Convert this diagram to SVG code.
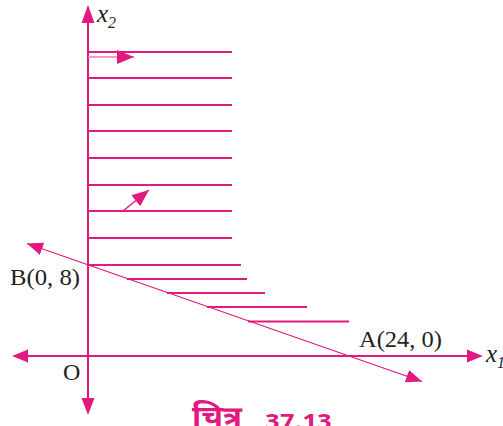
<svg xmlns="http://www.w3.org/2000/svg" width="503" height="426" viewBox="0 0 503 426">
<style>
.ax{stroke:#E2197F;stroke-width:2;fill:none}
.h{stroke:#E2197F;stroke-width:2;fill:none}
.c{stroke:#E2197F;stroke-width:1.3;fill:none}
.lbl{font-family:"Liberation Serif","Times New Roman",Times,serif;font-size:24px;fill:#231F20}
.it{font-family:"Liberation Serif","Times New Roman",Times,serif;font-style:italic;fill:#231F20}
.cap{font-family:"Noto Sans Devanagari","Noto Sans","Liberation Sans",sans-serif;font-weight:bold;fill:#E2197F}
</style>
<defs>
<marker id="ah" markerUnits="userSpaceOnUse" markerWidth="18" markerHeight="15" refX="17" refY="7" orient="auto">
<path d="M0,0 L17,7 L0,14 Z" fill="#E2197F"/>
</marker>
<marker id="ahs" markerUnits="userSpaceOnUse" markerWidth="18" markerHeight="14" refX="16" refY="6.5" orient="auto-start-reverse">
<path d="M0,0 L16,6.5 L0,13 Z" fill="#E2197F"/>
</marker>
</defs>
<g id="axes">
<line class="ax" x1="88" y1="399" x2="88" y2="22"/>
<polygon points="88,5 81.5,23 94.5,23" fill="#E2197F"/>
<polygon points="88,415 81.5,398 94.5,398" fill="#E2197F"/>
<line class="ax" x1="27" y1="356" x2="468" y2="356"/>
<polygon points="12,356 28,349.5 28,362.5" fill="#E2197F"/>
<polygon points="483,356 467,349.5 467,362.5" fill="#E2197F"/>
</g>
<g id="hatching">
<line class="h" x1="88" y1="52" x2="232" y2="52"/>
<line class="h" x1="88" y1="78" x2="232" y2="78"/>
<line class="h" x1="88" y1="105" x2="232" y2="105"/>
<line class="h" x1="88" y1="131" x2="232" y2="131"/>
<line class="h" x1="88" y1="158" x2="232" y2="158"/>
<line class="h" x1="88" y1="185" x2="232" y2="185"/>
<line class="h" x1="88" y1="211" x2="232" y2="211"/>
<line class="h" x1="88" y1="238" x2="232" y2="238"/>
<line class="h" x1="88" y1="265" x2="241" y2="265"/>
<line class="h" x1="127" y1="279" x2="247" y2="279"/>
<line class="h" x1="167" y1="293" x2="265" y2="293"/>
<line class="h" x1="207" y1="307" x2="307" y2="307"/>
<line class="h" x1="248" y1="321.5" x2="349" y2="321.5"/>
</g>
<g id="connectors">
<line class="c" x1="27" y1="243.5" x2="422" y2="381.5" marker-start="url(#ahs)" marker-end="url(#ahs)"/>
<line x1="88" y1="57" x2="134" y2="57" stroke="#EE7AB0" stroke-width="1.5" marker-end="url(#ah)"/>
<line x1="123" y1="211" x2="149" y2="190" stroke="#E2197F" stroke-width="1.5" marker-end="url(#ah)"/>
</g>
<g id="labels">
<text class="it" x="97" y="22" font-size="25">x</text>
<text class="it" x="108" y="28" font-size="16" font-style="normal">2</text>
<text class="it" x="486" y="362" font-size="25">x</text>
<text class="it" x="497" y="368" font-size="16" font-style="normal">1</text>
<text class="lbl" x="10" y="285" textLength="70" lengthAdjust="spacingAndGlyphs">B(0, 8)</text>
<text class="lbl" x="359" y="347" textLength="83" lengthAdjust="spacingAndGlyphs">A(24, 0)</text>
<text class="lbl" x="63" y="380">O</text>
</g>
<g id="caption">
<text class="cap" x="192" y="426" font-size="28" textLength="50" lengthAdjust="spacingAndGlyphs">चित्र</text>
<text class="cap" x="265" y="429" font-size="22" textLength="67" lengthAdjust="spacingAndGlyphs">37.13</text>
</g>
</svg>
